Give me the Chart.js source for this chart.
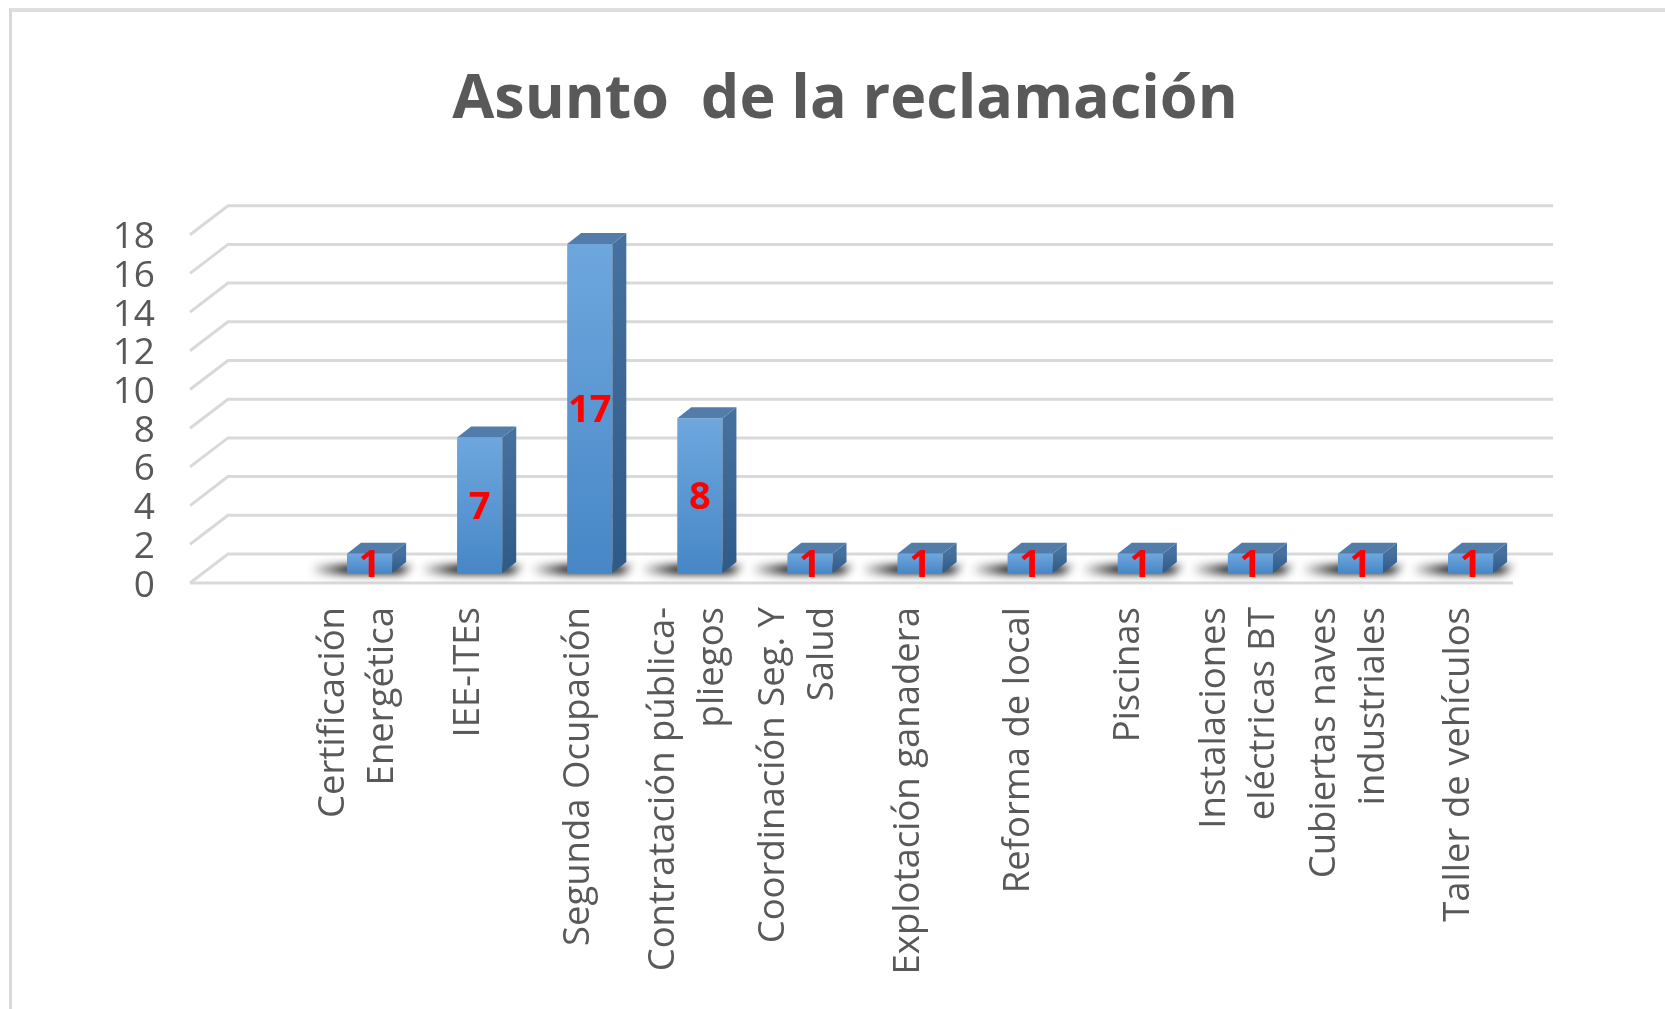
<!DOCTYPE html>
<html><head><meta charset="utf-8">
<script src="https://cdn.jsdelivr.net/npm/chart.js@4.4.1/dist/chart.umd.min.js"></script>
<style>
html,body{margin:0;padding:0;background:#fff;overflow:hidden;width:1665px;height:1009px;}
#frame{position:absolute;left:9px;top:8px;width:1700px;height:1100px;border-left:3px solid #d9d9d9;border-top:4px solid #dedede;}
#c{position:absolute;left:0;top:0;}
</style></head><body>
<div id="frame"></div>
<canvas id="c" width="1690" height="1009"></canvas>
<script>
const categories = [
  ["Certificación", "Energética"],
  "IEE-ITEs",
  "Segunda Ocupación",
  ["Contratación pública-", "pliegos"],
  ["Coordinación Seg. Y", "Salud"],
  "Explotación ganadera",
  "Reforma de local",
  "Piscinas",
  ["Instalaciones", "eléctricas BT"],
  ["Cubiertas naves", "industriales"],
  "Taller de vehículos"
];
const values = [1, 7, 17, 8, 1, 1, 1, 1, 1, 1, 1];
const yMin = 0, yMax = 18, yStep = 2;
const titleText = "Asunto  de la reclamación";

const TEXT = '#595959';
const GRIDC = '#d9d9d9';
const X_FONT = { family: 'Open Sans', size: 36.5, lineHeight: 1.35 };

const threeD = {
  id: 'threeD',
  beforeDraw(chart) {
    // center multi-line rotated category labels on their tick
    const xs = chart.scales.x;
    if (xs._centeredFix) return;
    const lh = X_FONT.size * X_FONT.lineHeight;
    xs.getLabelItems().forEach(it => {
      const n = Array.isArray(it.label) ? it.label.length : 1;
      it.options.translation[0] -= (n - 1) * lh / 2;
    });
    xs._centeredFix = true;
  },
  beforeDatasetsDraw(chart) {
    const ctx = chart.ctx, ys = chart.scales.y, ca = chart.chartArea;
    ctx.save();
    ctx.strokeStyle = GRIDC; ctx.lineWidth = 3;
    for (let v = yMin; v <= yMax; v += yStep) {
      const p = ys.getPixelForValue(v);
      ctx.beginPath();
      ctx.moveTo(ca.left - 124.5, p + 10);
      ctx.lineTo(ca.left - 86.5, p - 19);
      ctx.lineTo(ca.right + 27.4, p - 19);
      ctx.stroke();
    }
    const p0 = ys.getPixelForValue(0);
    ctx.beginPath();
    ctx.moveTo(ca.left - 124.5, p0 + 10);
    ctx.lineTo(ca.right - 12.6, p0 + 10);
    ctx.stroke();
    // floor shadows
    const meta = chart.getDatasetMeta(0);
    ctx.filter = 'blur(4px)';
    meta.data.forEach(b => {
      const w = b.width, l = b.x - w / 2, r = b.x + w / 2;
      const g = ctx.createLinearGradient(l - 36, 0, r + 20, 0);
      g.addColorStop(0, 'rgba(0,0,0,0)');
      g.addColorStop(0.35, 'rgba(0,0,0,0.95)');
      g.addColorStop(0.85, 'rgba(0,0,0,0.95)');
      g.addColorStop(1, 'rgba(0,0,0,0.3)');
      ctx.fillStyle = g;
      ctx.beginPath();
      ctx.moveTo(l - 36, b.base - 8);
      ctx.lineTo(r + 22, b.base - 8);
      ctx.lineTo(r + 12, b.base + 1);
      ctx.lineTo(l - 40, b.base + 1);
      ctx.closePath();
      ctx.fill();
    });
    ctx.restore();
  },
  afterDatasetsDraw(chart) {
    const ctx = chart.ctx;
    const meta = chart.getDatasetMeta(0);
    const dx = 14, dy = -11;
    ctx.save();
    meta.data.forEach((b) => {
      const w = b.width, l = b.x - w / 2, r = b.x + w / 2, t = b.y, base = b.base;
      const gs = ctx.createLinearGradient(0, t, 0, base);
      gs.addColorStop(0, '#46719e'); gs.addColorStop(1, '#2f5a87');
      ctx.fillStyle = gs;
      ctx.beginPath();
      ctx.moveTo(r, t); ctx.lineTo(r + dx, t + dy); ctx.lineTo(r + dx, base + dy); ctx.lineTo(r, base);
      ctx.closePath(); ctx.fill();
      ctx.fillStyle = '#527dab';
      ctx.beginPath();
      ctx.moveTo(l, t); ctx.lineTo(l + dx, t + dy); ctx.lineTo(r + dx, t + dy); ctx.lineTo(r, t);
      ctx.closePath(); ctx.fill();
    });
    ctx.fillStyle = '#ff0000';
    ctx.font = 'bold 38px "Open Sans"';
    ctx.textAlign = 'center';
    ctx.textBaseline = 'middle';
    meta.data.forEach((b, i) => {
      ctx.fillText(String(values[i]), b.x, (b.y + b.base) / 2 + 3);
    });
    ctx.restore();
  }
};

new Chart(document.getElementById('c'), {
  type: 'bar',
  data: {
    labels: categories,
    datasets: [{
      data: values,
      barPercentage: 0.41,
      categoryPercentage: 1,
      borderWidth: 0,
      backgroundColor: (c) => {
        const chart = c.chart;
        if (!chart.chartArea) return '#5b9bd5';
        const ys = chart.scales.y;
        const top = ys.getPixelForValue(c.raw), base = ys.getPixelForValue(0);
        const g = chart.ctx.createLinearGradient(0, top, 0, base);
        g.addColorStop(0, '#6ea7de'); g.addColorStop(1, '#4787c7');
        return g;
      }
    }]
  },
  options: {
    responsive: false,
    animation: false,
    events: [],
    layout: { padding: 0 },
    plugins: {
      legend: { display: false },
      tooltip: { enabled: false },
      title: {
        display: true,
        text: titleText,
        color: TEXT,
        font: { family: 'Open Sans', size: 61, weight: 'bold', lineHeight: 1.2 },
        padding: { top: 64, bottom: 87.5 }
      }
    },
    scales: {
      x: {
        grid: { display: false, drawTicks: false },
        border: { display: false },
        ticks: {
          autoSkip: false, maxRotation: 90, minRotation: 90,
          padding: 34, labelOffset: -11.5, color: TEXT,
          font: X_FONT
        },
        afterFit: (s) => { s.height = 436; }
      },
      y: {
        min: yMin, max: yMax,
        grid: { display: false, drawTicks: false },
        border: { display: false },
        ticks: {
          stepSize: yStep, autoSkip: false, padding: 159.5, labelOffset: 13,
          color: TEXT, font: { family: 'Open Sans', size: 37 }
        },
        afterFit: (s) => { s.width = 314.5; }
      },
      yR: {
        type: 'linear', position: 'right', display: true,
        grid: { display: false, drawTicks: false },
        border: { display: false },
        ticks: { display: false },
        afterFit: (s) => { s.width = 164.4; }
      }
    }
  },
  plugins: [threeD]
});
</script>
</body></html>
